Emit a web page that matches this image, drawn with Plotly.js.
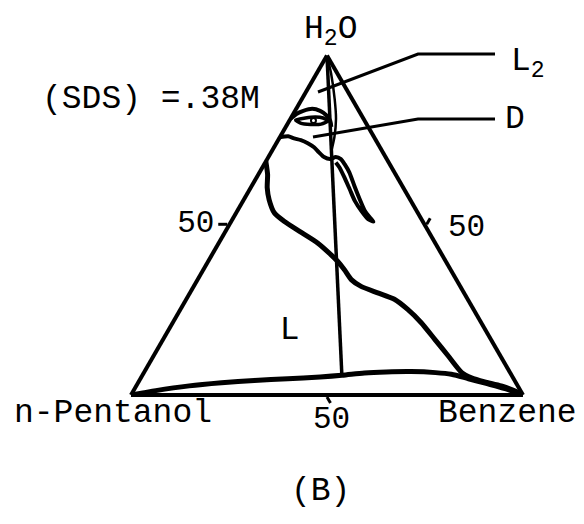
<!DOCTYPE html>
<html>
<head>
<meta charset="utf-8">
<script src="https://cdn.plot.ly/plotly-3.0.1.min.js"></script>
<style>
  html, body { margin: 0; padding: 0; background: #ffffff; }
  #chart { width: 584px; height: 524px; }
</style>
</head>
<body>
<div id="chart"></div>
<script>
// Water / n-pentanol / benzene phase diagram at (SDS) = .38 M, compositions in percent.
// a = H2O, b = n-Pentanol, c = Benzene.

const vertexLabels = ['H<sub>2</sub>O', 'n-Pentanol', 'Benzene'];
const tickValues = [50];
const tickLabels = ['50'];
const concentrationLabel = '(SDS) =.38M';
const panelLabel = '(B)';
const regionLabels = ['L', 'L<sub>2</sub>', 'D'];

// Boundary of the L region, from the water-pentanol side down to the benzene corner
const lBoundaryWater     = [68.8, 64.9, 61.1, 57.5, 53.6, 51.1, 48.2, 44.8, 41.3, 39.4, 36.9, 34.0, 32.0, 30.1, 28.2, 25.2, 21.3, 16.4, 11.5, 6.6, 5.1, 3.9, 2.7, 0.8, 0];
const lBoundaryPentanol  = [31.2, 32.7, 34.7, 36.0, 36.6, 35.3, 32.9, 30.0, 28.3, 27.6, 27.1, 26.8, 25.3, 22.0, 18.7, 16.8, 15.3, 14.3, 13.3, 12.3, 10.6, 7.8, 4.2, 0.9, 0];
const lBoundaryBenzene   = [0.0, 2.4, 4.2, 6.5, 9.8, 13.6, 18.9, 25.2, 30.4, 33.0, 36.0, 39.2, 42.7, 47.9, 53.1, 58.0, 63.4, 69.3, 75.2, 81.1, 84.3, 88.3, 93.1, 98.3, 100];

// Low-water band along the pentanol-benzene side
const baseBandWater    = [0, 0.6, 1.3, 2.7, 3.6, 4.3, 4.8, 5.3, 5.8, 6.5, 6.8, 6.9, 6.6, 6.1, 4.8, 3.5, 1.9, 0];
const baseBandPentanol = [100, 96.7, 93.0, 83.8, 75.1, 66.4, 57.6, 49.1, 43.3, 37.2, 31.5, 25.1, 19.0, 15.2, 11.5, 7.9, 3.6, 0];
const baseBandBenzene  = [0, 2.7, 5.7, 13.5, 21.3, 29.3, 37.6, 45.6, 50.9, 56.3, 61.7, 68.0, 74.4, 78.7, 83.7, 88.6, 94.5, 100];

// Straight line from the water corner to the band
const tieWater    = [100, 5.8];
const tiePentanol = [0, 43.3];
const tieBenzene  = [0, 50.9];

// Upper edge of the D region near the water corner
const dTopWater    = [81.3, 82.8, 83.7, 84.3, 83.7, 82.5, 80.7, 79.0];
const dTopPentanol = [18.7, 16.4, 14.2, 11.6, 9.9, 9.0, 8.8, 9.4];
const dTopBenzene  = [0.0, 0.8, 2.1, 4.1, 6.4, 8.5, 10.5, 11.6];

// Small closed loop inside the D region
const dLoopWater    = [81.0, 81.6, 81.9, 81.6, 80.7, 79.8, 79.7, 80.1, 81.0];
const dLoopPentanol = [17.5, 14.7, 12.0, 10.2, 9.4, 11.6, 14.3, 16.7, 17.5];
const dLoopBenzene  = [1.5, 3.7, 6.1, 8.2, 9.9, 8.6, 6.0, 3.2, 1.5];
const dDotWater = [80.9], dDotPentanol = [13.0], dDotBenzene = [6.1];

// Lower edge of the D region and its narrow tongue toward benzene
const dLowWater    = [75.9, 76.2, 75.6, 75.1, 74.2, 73.0, 71.5, 70.1, 69.5, 70.1, 69.5, 68.0, 65.6, 61.6, 57.7, 54.3, 52.3, 51.1, 51.8, 54.2, 57.2, 60.6, 64.1, 67.1, 68.5];
const dLowPentanol = [24.1, 21.8, 20.6, 19.1, 17.8, 16.8, 16.3, 15.7, 14.5, 12.7, 11.7, 11.5, 11.5, 12.2, 12.8, 13.2, 12.9, 12.6, 13.6, 14.1, 14.3, 13.9, 13.5, 13.3, 13.5];
const dLowBenzene  = [0.0, 2.0, 3.8, 5.8, 8.0, 10.2, 12.2, 14.2, 16.0, 17.2, 18.8, 20.5, 22.9, 26.2, 29.5, 32.5, 34.8, 36.3, 34.6, 31.7, 28.5, 25.5, 22.4, 19.6, 18.0];

// Thin L2 boundary hugging the tie line below the water corner
const l2Water    = [100, 94.7, 87.3, 81.4, 76.0, 72.5];
const l2Pentanol = [0, 1.6, 4.4, 7.0, 10.1, 12.5];
const l2Benzene  = [0, 3.7, 8.3, 11.6, 13.9, 15.0];

// Position of the L region label
const lLabelWater = [19.0], lLabelPentanol = [50.0], lLabelBenzene = [31.0];

const W = 584, H = 524;
const FONT = '"Liberation Mono", "Courier New", monospace';
const INK = '#000000';
const px = (x) => x / W;
const py = (y) => 1 - y / H;

function curve(a, b, c, width, smooth) {
  return {
    type: 'scatterternary', mode: 'lines',
    a: a, b: b, c: c,
    line: { color: INK, width: width, shape: 'spline', smoothing: smooth },
    cliponaxis: false, hoverinfo: 'skip', showlegend: false
  };
}

const traces = [
  curve(baseBandWater, baseBandPentanol, baseBandBenzene, 5, 0.8),
  curve(lBoundaryWater, lBoundaryPentanol, lBoundaryBenzene, 5, 0.6),
  { type: 'scatterternary', mode: 'lines', a: tieWater, b: tiePentanol, c: tieBenzene,
    line: { color: INK, width: 3.5 }, cliponaxis: false, hoverinfo: 'skip', showlegend: false },
  curve(l2Water, l2Pentanol, l2Benzene, 2.5, 0.6),
  curve(dTopWater, dTopPentanol, dTopBenzene, 4, 0.7),
  curve(dLoopWater, dLoopPentanol, dLoopBenzene, 3.5, 0.7),
  { type: 'scatterternary', mode: 'markers', a: dDotWater, b: dDotPentanol, c: dDotBenzene,
    marker: { symbol: 'circle-open', size: 5, color: INK, line: { width: 2, color: INK } },
    cliponaxis: false, hoverinfo: 'skip', showlegend: false },
  curve(dLowWater, dLowPentanol, dLowBenzene, 4, 0.6),
  { type: 'scatterternary', mode: 'text', a: lLabelWater, b: lLabelPentanol, c: lLabelBenzene,
    text: [regionLabels[0]], textfont: { family: FONT, size: 33, color: INK },
    cliponaxis: false, hoverinfo: 'skip', showlegend: false }
];

function axisStyle(withLabels, len) {
  return {
    title: { text: '' },
    min: 0,
    showline: true, linecolor: INK, linewidth: 4,
    showgrid: false,
    ticks: 'outside', ticklen: len, tickwidth: 3, tickcolor: INK,
    tickmode: 'array', tickvals: tickValues, ticktext: tickLabels,
    showticklabels: withLabels,
    tickfont: { family: FONT, size: 31, color: INK }
  };
}

function label(text, x, y, xanchor, size) {
  return {
    text: text, xref: 'paper', yref: 'paper', x: px(x), y: py(y),
    xanchor: xanchor || 'center', yanchor: 'middle', showarrow: false,
    font: { family: FONT, size: size || 33, color: INK }
  };
}

// Leader lines from the small regions out to their labels
const leaders = [
  [[318, 92], [418, 54], [495, 54]],
  [[313, 137], [418, 119], [495, 119]]
];

const layout = {
  width: W, height: H,
  margin: { l: 0, r: 0, t: 0, b: 0 },
  paper_bgcolor: '#ffffff',
  showlegend: false,
  hovermode: false,
  ternary: {
    sum: 100,
    domain: { x: [0.2243, 0.8955], y: [0.2461, 0.8940] },
    bgcolor: '#ffffff',
    aaxis: axisStyle(true, 9), baxis: axisStyle(false, 7), caxis: axisStyle(false, 7)
  },
  annotations: [
    label(vertexLabels[0], 330, 32),
    label(vertexLabels[1], 113, 413),
    label(vertexLabels[2], 507, 413),
    label(tickLabels[0], 331, 419, 'center', 31),
    label(tickLabels[0], 446, 228, 'left', 31),
    label(concentrationLabel, 151, 100),
    label(regionLabels[1], 509, 63, 'left'),
    label(regionLabels[2], 503, 120, 'left'),
    label(panelLabel, 320, 491)
  ],
  shapes: leaders.map(pts => ({
    type: 'path', xref: 'paper', yref: 'paper',
    path: pts.map((p, i) => (i ? 'L' : 'M') + px(p[0]) + ',' + py(p[1])).join(' '),
    line: { color: INK, width: 3 }
  }))
};

Plotly.newPlot('chart', traces, layout, { displayModeBar: false, staticPlot: true }).then(() => {
  // drop the empty placeholder title nodes
  document.querySelectorAll('#chart text').forEach(t => {
    if (!t.textContent.trim()) t.remove();
  });
});
</script>
</body>
</html>
